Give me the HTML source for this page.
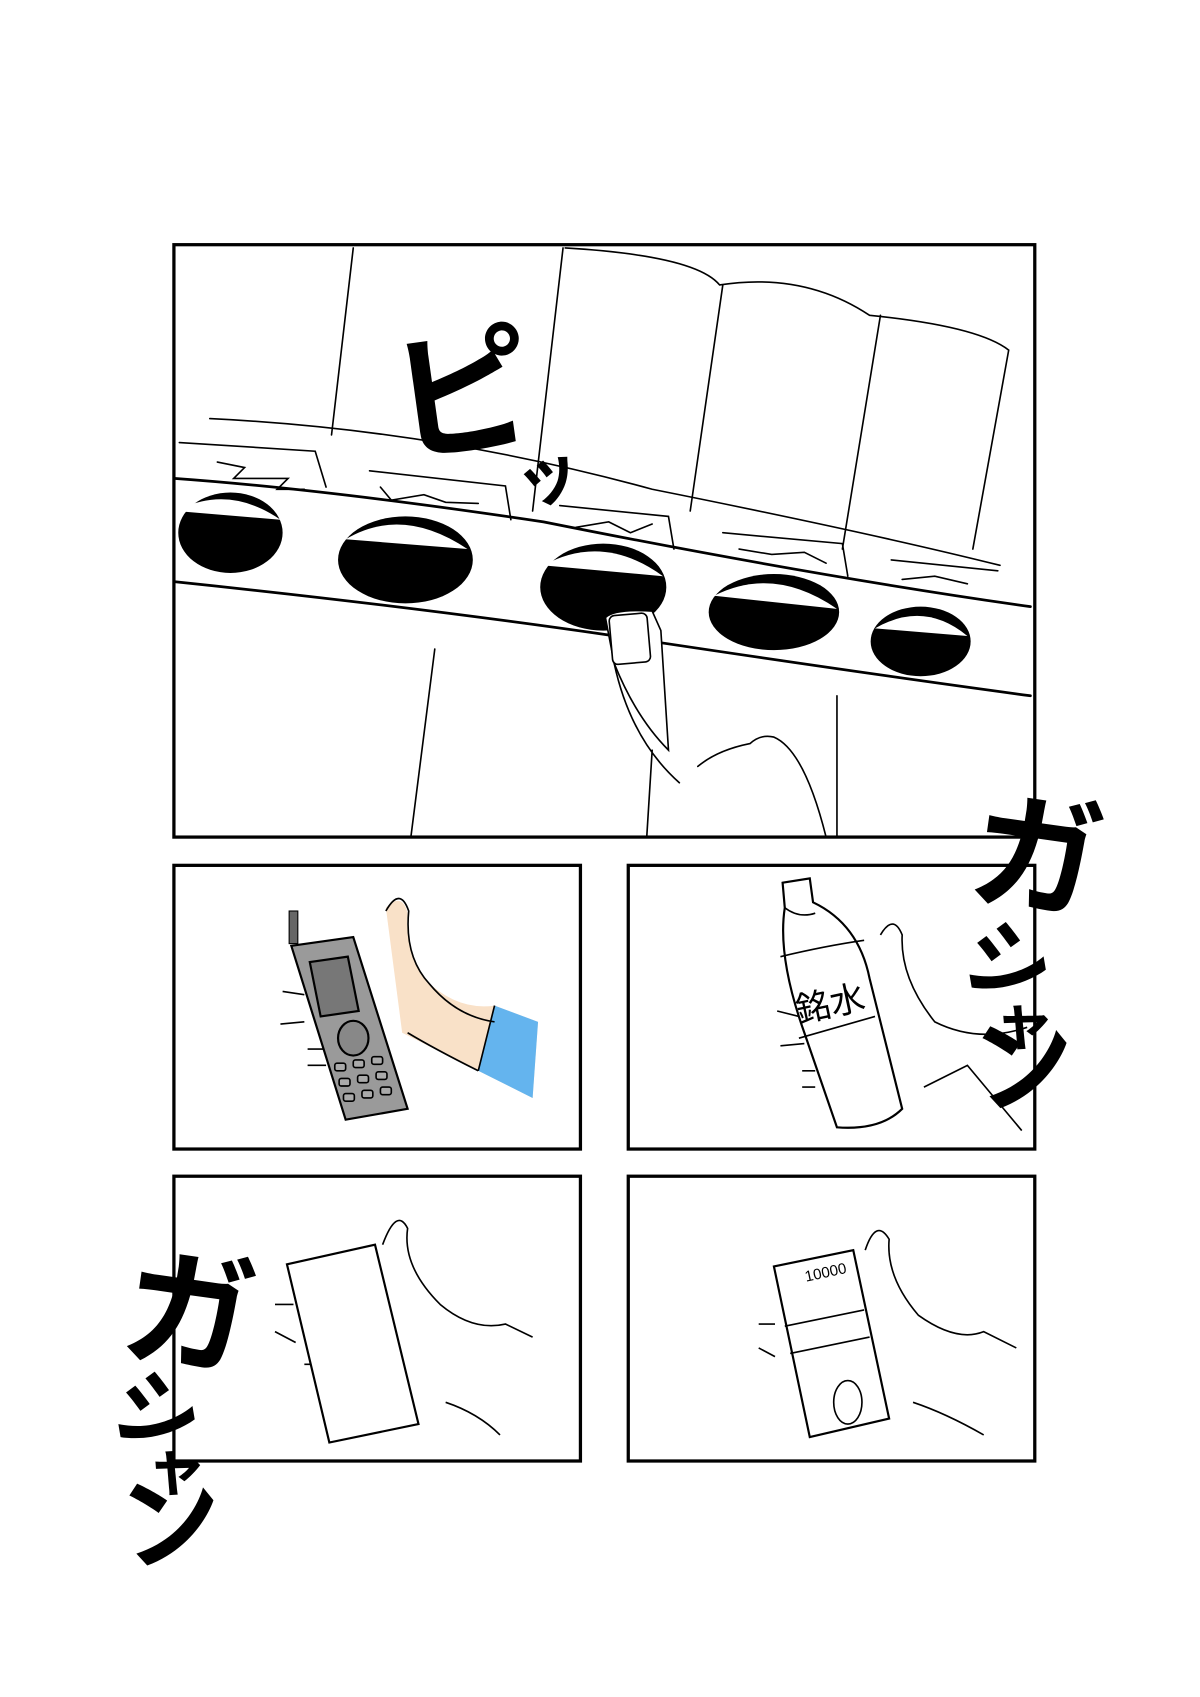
<!DOCTYPE html>
<html><head><meta charset="utf-8"><style>
html,body{margin:0;padding:0;background:#fff}
svg{display:block}
text{font-family:"Liberation Sans","Noto Sans CJK JP",sans-serif}
</style></head><body>
<svg width="1200" height="1697" viewBox="0 0 1104 1561" xmlns="http://www.w3.org/2000/svg">
<rect width="1104" height="1561" fill="#fff"/>
<g fill="none" stroke="#000" stroke-width="1.5" stroke-linecap="round">
<!-- top panel drawings -->
<path d="M325 228 L305 400 M518 228 L490 470 M520 228 Q640 235 662 262 Q740 250 800 290 Q900 300 928 322 L895 505 M665 262 L635 470 M810 290 L775 505"/>
<path d="M193 385 Q400 395 600 450 Q800 490 920 520"/>
<path d="M165 407 L290 415 L300 448 M340 433 L465 447 L470 478 M515 465 L615 475 L620 505 M665 490 L775 500 L780 530 M820 515 L918 525"/>
<path d="M200 425 L225 430 L215 440 L265 440 L255 450 L280 450 M350 448 L360 460 L390 455 L410 462 L440 463 M530 485 L560 480 L580 490 L600 482 M680 505 L710 510 L740 508 L760 518 M830 533 L860 530 L890 537"/>
<path d="M160 440 Q300 450 500 480 Q750 530 948 558" stroke-width="2.5"/>
<path d="M160 535 Q400 560 600 590 Q800 620 948 640" stroke-width="2.5"/>
<path d="M400 597 L378 770 M770 640 L770 770"/>
<path d="M565 610 Q580 680 625 720 M600 690 L595 770 M642 705 Q660 690 690 684 Q700 675 712 678 Q740 690 760 770"/>
</g>
<g fill="#000">
<ellipse cx="212" cy="490" rx="48" ry="37"/>
<ellipse cx="373" cy="515" rx="62" ry="40"/>
<ellipse cx="555" cy="540" rx="58" ry="40"/>
<ellipse cx="712" cy="563" rx="60" ry="35"/>
<ellipse cx="847" cy="590" rx="46" ry="32"/>
</g>
<g fill="#fff">
<path d="M162 470 Q210 445 258 478 Z"/>
<path d="M318 496 Q370 465 430 505 Z"/>
<path d="M500 520 Q555 490 610 530 Z"/>
<path d="M657 548 Q712 520 770 560 Z"/>
<path d="M805 578 Q850 552 890 585 Z"/>
</g>
<path d="M557 568 Q565 560 600 562 L608 580 L615 690 Q585 660 565 610 Z" fill="#fff" stroke="#000" stroke-width="1.5"/>
<rect x="562" y="565" width="35" height="45" rx="5" fill="#fff" stroke="#000" stroke-width="1.5" transform="rotate(-5 580 588)"/>
<text x="360" y="410" font-size="130" font-weight="bold" transform="rotate(-8 420 360)">ピ</text>
<text x="475" y="460" font-size="60" font-weight="bold" transform="rotate(-20 500 440)">ッ</text>
<!-- panel borders -->
<g fill="none" stroke="#000" stroke-width="3">
<rect x="160" y="225" width="792" height="545"/>
<rect x="160" y="796" width="374" height="261"/>
<rect x="578" y="796" width="374" height="261"/>
<rect x="160" y="1082" width="374" height="262"/>
<rect x="578" y="1082" width="374" height="262"/>
</g>
<!-- phone panel -->
<path d="M355 835 Q370 820 375 840 Q372 870 390 900 Q420 930 455 925 L495 940 L490 1010 L440 985 Q400 965 370 950 Z" fill="#f9e1c8"/>
<path d="M455 925 L495 940 L490 1010 L440 985 Z" fill="#64b4ee"/>
<g fill="none" stroke="#000" stroke-width="1.5">
<path d="M355 838 Q368 815 376 838 Q372 880 395 905 Q420 935 455 940 M440 985 L455 925 M375 950 Q400 965 440 985"/>
<path d="M260 912 L280 915 M258 942 L280 940 M283 965 L300 965 M283 980 L300 980"/>
</g>
<rect x="266" y="838" width="8" height="30" fill="#666" stroke="#000"/>
<path d="M268 870 L325 862 L375 1020 L318 1030 Z" fill="#9a9a9a" stroke="#000" stroke-width="2"/>
<path d="M285 885 L320 880 L330 930 L295 935 Z" fill="#777" stroke="#000" stroke-width="2"/>
<ellipse cx="325" cy="955" rx="14" ry="16" fill="#888" stroke="#000" stroke-width="2"/>
<g fill="#aaa" stroke="#000" stroke-width="1.5">
<rect x="308" y="978" width="10" height="7" rx="2"/><rect x="325" y="975" width="10" height="7" rx="2"/><rect x="342" y="972" width="10" height="7" rx="2"/>
<rect x="312" y="992" width="10" height="7" rx="2"/><rect x="329" y="989" width="10" height="7" rx="2"/><rect x="346" y="986" width="10" height="7" rx="2"/>
<rect x="316" y="1006" width="10" height="7" rx="2"/><rect x="333" y="1003" width="10" height="7" rx="2"/><rect x="350" y="1000" width="10" height="7" rx="2"/>
</g>
<!-- bottle panel -->
<g fill="none" stroke="#000" stroke-width="1.5">
<path d="M810 860 Q822 840 830 860 Q828 900 860 940 Q900 960 945 945 M850 1000 L890 980 L940 1040 M715 930 L735 935 M718 962 L740 960 M738 985 L750 985 M738 1000 L750 1000"/>
</g>
<path d="M720 812 L745 808 L748 830 Q790 850 800 900 L830 1020 Q810 1040 770 1037 L740 950 Q715 880 722 835 Z" fill="#fff" stroke="#000" stroke-width="2"/>
<path d="M722 835 Q735 845 750 840 M718 880 Q760 870 795 865 M735 955 Q770 945 805 935" fill="none" stroke="#000" stroke-width="1.5"/>
<text x="730" y="935" font-size="32" transform="rotate(-12 760 915)">銘水</text>
<!-- box panel -->
<g fill="none" stroke="#000" stroke-width="1.5">
<path d="M352 1145 Q365 1110 375 1130 Q370 1165 405 1200 Q435 1225 465 1218 L490 1230 M410 1290 Q440 1300 460 1320 M253 1200 L270 1200 M253 1225 L272 1235 M280 1255 L300 1255"/>
</g>
<path d="M264 1163 L345 1145 L385 1310 L303 1327 Z" fill="#fff" stroke="#000" stroke-width="2"/>
<!-- money panel -->
<g fill="none" stroke="#000" stroke-width="1.5">
<path d="M796 1150 Q806 1120 818 1140 Q815 1175 845 1210 Q880 1235 905 1225 L935 1240 M840 1290 Q870 1300 905 1320 M698 1218 L713 1218 M698 1240 L713 1248"/>
</g>
<path d="M712 1165 L785 1150 L818 1305 L745 1322 Z" fill="#fff" stroke="#000" stroke-width="2"/>
<path d="M722 1220 L795 1205 M727 1245 L800 1230" stroke="#000" stroke-width="1.5"/>
<ellipse cx="780" cy="1290" rx="13" ry="20" fill="none" stroke="#000" stroke-width="1.5"/>
<text x="740" y="1175" font-size="14" transform="rotate(-12 760 1170)">10000</text>
<!-- SFX right -->
<g font-weight="bold" fill="#000">
<text x="895" y="830" font-size="120" transform="rotate(8 950 780)">ガ</text>
<text x="890" y="915" font-size="80" transform="rotate(20 930 880)">シ</text>
<text x="915" y="960" font-size="55" transform="rotate(10 940 940)">ャ</text>
<text x="895" y="1010" font-size="95" transform="rotate(-10 950 980)">ン</text>
<text x="115" y="1250" font-size="120" transform="rotate(8 170 1200)">ガ</text>
<text x="105" y="1330" font-size="80" transform="rotate(20 150 1300)">シ</text>
<text x="135" y="1370" font-size="55" transform="rotate(10 160 1350)">ャ</text>
<text x="110" y="1430" font-size="95" transform="rotate(-10 170 1400)">ン</text>
</g>
</svg>
</body></html>
